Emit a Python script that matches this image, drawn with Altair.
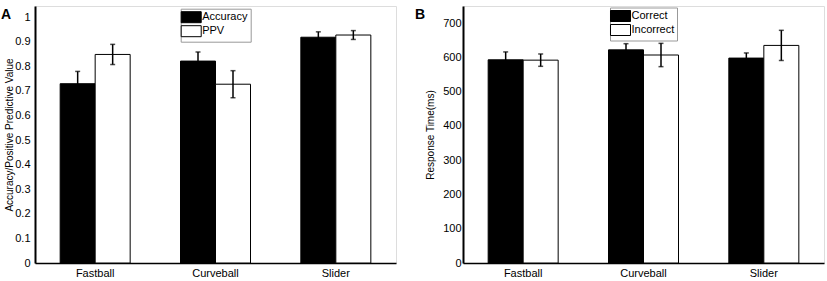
import altair as alt
import pandas as pd

categories = ["Fastball", "Curveball", "Slider"]

# Panel A
series_a = ["Accuracy", "PPV"]
accuracy = [0.729, 0.821, 0.918]
accuracy_err = [0.050, 0.037, 0.022]
ppv = [0.848, 0.727, 0.927]
ppv_err = [0.041, 0.055, 0.018]
yticks_a = [0, 0.1, 0.2, 0.3, 0.4, 0.5, 0.6, 0.7, 0.8, 0.9, 1]
ydomain_a = [0, 1.045]

# Panel B
series_b = ["Correct", "Incorrect"]
rt_correct = [593, 622, 598]
rt_correct_err = [23, 18, 15]
rt_incorrect = [592, 607, 635]
rt_incorrect_err = [18, 34, 44]
yticks_b = [0, 100, 200, 300, 400, 500, 600, 700]
ydomain_b = [0, 750]

panel_letters = ["A", "B"]

# styles
FONT = "Liberation Sans"
W, H = 361, 257
BAR_W = 35
SERIES_SHIFT = [-BAR_W / 2, BAR_W / 2]


def make_df(series, vals1, err1, vals2, err2):
    rows = []
    for i, c in enumerate(categories):
        for s, v, e in ((series[0], vals1[i], err1[i]), (series[1], vals2[i], err2[i])):
            rows.append({"cat": c, "series": s, "val": v, "lo": v - e, "hi": v + e})
    return pd.DataFrame(rows)


def panel(df, series, ytitle, ydomain, yticks, fmt, label_pad, title_x,
          legend_x, legend_y, letter, letter_x):
    x = alt.X("cat:N", sort=categories,
              scale=alt.Scale(type="band", paddingInner=0, paddingOuter=0),
              axis=alt.Axis(title=None, labelAngle=0, ticks=False, domainColor="black",
                            domainWidth=1.7, labelPadding=4, labelFontSize=11,
                            labelColor="black", labelFont=FONT))
    yaxis = alt.Axis(values=yticks, format=fmt, grid=False, ticks=False, title=ytitle,
                     titleFontSize=10, titleFontWeight="normal", titleColor="black",
                     titleFont=FONT, titleX=title_x, labelFontSize=11, labelColor="black",
                     labelFont=FONT, labelPadding=label_pad, labelOverlap=False,
                     domainColor="black", domainWidth=2)
    yscale = alt.Scale(domain=ydomain, nice=False, zero=True)
    color = alt.Color("series:N", sort=series,
                      scale=alt.Scale(domain=series, range=["black", "white"]),
                      legend=alt.Legend(title=None, orient="none", legendX=legend_x,
                                        legendY=legend_y, direction="vertical",
                                        symbolType="M-1.82,-1H1.82V1H-1.82Z",
                                        symbolSize=121, symbolStrokeColor="black",
                                        symbolStrokeWidth=1, symbolOffset=2,
                                        labelOffset=5, labelFontSize=11,
                                        labelColor="black", labelFont=FONT,
                                        strokeColor="#999999", fillColor="white",
                                        padding=2.5, rowPadding=-3))
    layers = []
    for s, shift in zip(series, SERIES_SHIFT):
        base = alt.Chart(df).transform_filter(alt.datum.series == s)
        layers.append(base.mark_bar(stroke="black", strokeWidth=1, width=BAR_W,
                                    xOffset=shift).encode(
            x=x, y=alt.Y("val:Q", scale=yscale, axis=yaxis), color=color))
    for s, shift in zip(series, SERIES_SHIFT):
        base = alt.Chart(df).transform_filter(alt.datum.series == s)
        layers.append(base.mark_rule(color="black", strokeWidth=1.5, xOffset=shift).encode(
            x=x, y=alt.Y("lo:Q", scale=yscale, axis=yaxis), y2="hi:Q"))
        for fld in ("hi:Q", "lo:Q"):
            layers.append(base.mark_tick(color="black", thickness=1.5, size=5,
                                         xOffset=shift).encode(
                x=x, y=alt.Y(fld, scale=yscale, axis=yaxis)))
    lab = alt.Chart(pd.DataFrame({"t": [letter]})).mark_text(
        fontSize=14, fontWeight="bold", font=FONT, align="left", baseline="alphabetic",
        color="black").encode(text="t:N", x=alt.value(letter_x), y=alt.value(13))
    layers.append(lab)
    return alt.layer(*layers).properties(width=W, height=H)


df_a = make_df(series_a, accuracy, accuracy_err, ppv, ppv_err)
df_b = make_df(series_b, rt_correct, rt_correct_err, rt_incorrect, rt_incorrect_err)

pa = panel(df_a, series_a, "Accuracy/Positive Predictive Value", ydomain_a, yticks_a, "~g",
           5, -21, 145.7, 2.7, panel_letters[0], -34)
pb = panel(df_b, series_b, "Response Time(ms)", ydomain_b, yticks_b, "d",
           2, -28, 147, 1.5, panel_letters[1], -48)

chart = alt.hconcat(pa, pb, spacing=17).resolve_scale(
    color="independent", x="independent", y="independent"
).properties(
    padding={"left": 0, "top": 5, "right": 0, "bottom": 0}
).configure_view(stroke=None).configure(font=FONT)

chart.save("out.html", embed_options={"renderer": "svg", "actions": False})
